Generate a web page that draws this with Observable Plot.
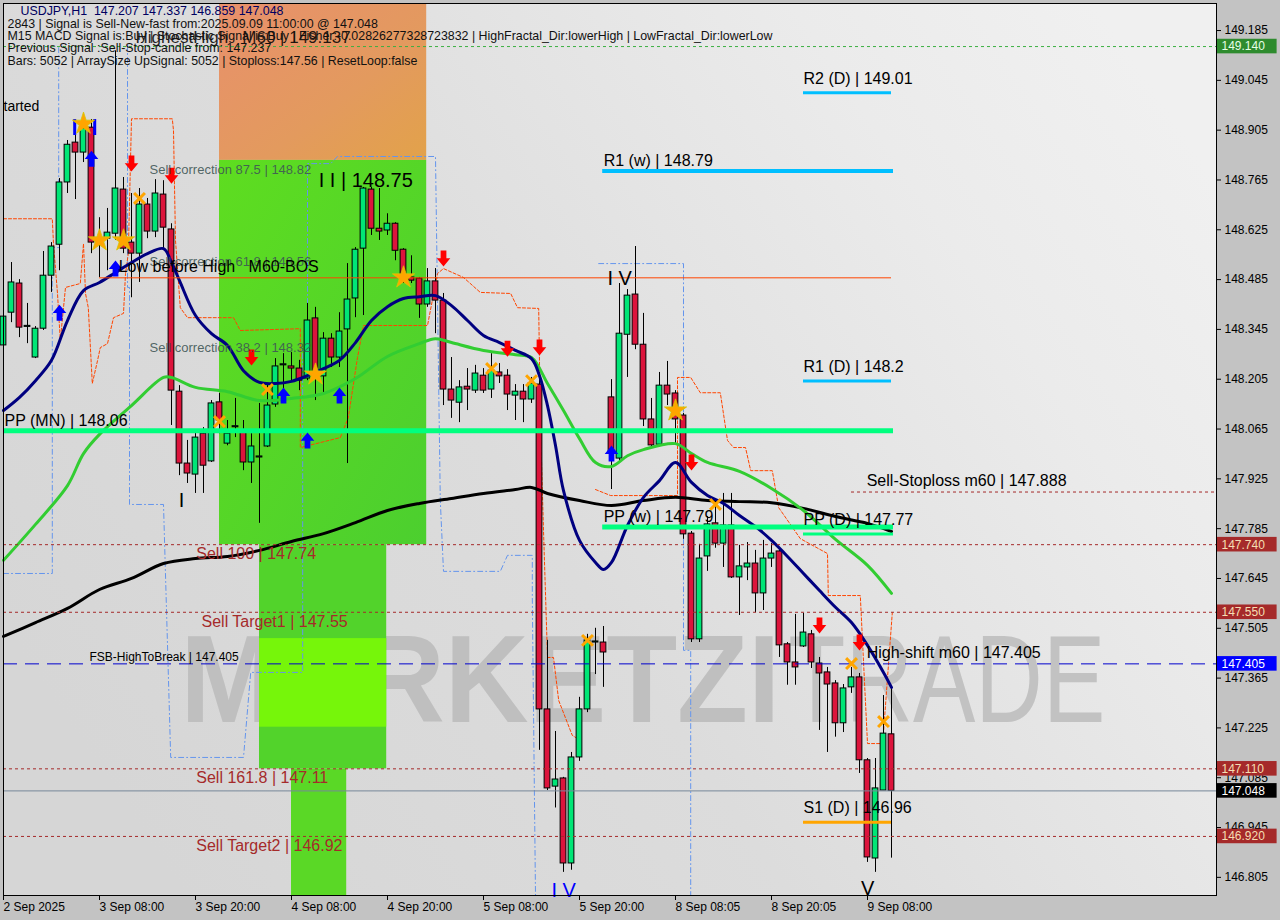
<!DOCTYPE html>
<html><head><meta charset="utf-8">
<script src="https://cdn.jsdelivr.net/npm/d3@7"></script>
<script src="https://cdn.jsdelivr.net/npm/@observablehq/plot@0.6"></script>
<style>
body{margin:0;background:#c3c3c3;}
#chart svg{display:block}
svg text{white-space:pre}
</style>
</head><body><div id="chart"></div>
<script>
// ---------- DATA ----------
const xTickIdx=[0,12,24,36,48,60,72,84,96,108];
const xTickLabels=["2 Sep 2025","3 Sep 08:00","3 Sep 20:00","4 Sep 08:00","4 Sep 20:00","5 Sep 08:00","5 Sep 20:00","8 Sep 08:05","8 Sep 20:05","9 Sep 08:00"];
const yTicks=[149.185,149.045,148.905,148.765,148.625,148.485,148.345,148.205,148.065,147.925,147.785,147.645,147.505,147.365,147.225,147.085,146.945,146.805];

const open=[148.300,148.392,148.474,148.352,148.266,148.347,148.496,148.583,148.758,148.870,
148.842,148.912,148.598,148.600,148.614,148.738,148.589,148.558,148.696,148.620,
148.724,148.626,148.170,147.968,147.937,148.052,147.974,148.140,148.024,148.070,
148.055,147.971,147.985,148.016,148.134,148.244,148.241,148.235,148.207,148.376,
148.213,148.319,148.266,148.345,148.432,148.572,148.738,148.628,148.623,148.642,
148.569,148.491,148.488,148.415,148.480,148.426,148.176,148.139,148.184,148.173,
148.215,148.176,148.224,148.215,148.159,148.170,148.148,148.190,147.277,147.060,
147.083,146.844,147.142,147.277,147.465,147.465,148.154,147.982,148.330,148.443,
148.302,148.092,148.021,148.187,148.165,148.103,147.771,147.474,147.707,147.800,
147.743,147.794,147.648,147.676,147.687,147.603,147.701,147.721,147.460,147.409,
147.454,147.488,147.406,147.381,147.350,147.238,147.339,147.367,147.134,146.858,
147.049,147.207];
const high=[148.400,148.533,148.485,148.418,148.353,148.564,148.589,148.769,148.876,148.904,
148.932,148.935,148.659,148.685,149.128,148.772,148.727,148.741,148.713,148.766,
148.763,148.642,148.187,148.033,148.055,148.069,148.145,148.165,148.089,148.151,
148.089,148.052,148.137,148.193,148.263,148.277,148.280,148.258,148.418,148.407,
148.336,148.333,148.392,148.530,148.575,148.744,148.744,148.741,148.670,148.645,
148.572,148.552,148.491,148.516,148.516,148.446,148.266,148.201,148.235,148.244,
148.235,148.277,148.249,148.232,148.190,148.190,148.210,148.215,147.471,147.215,
147.086,147.156,147.311,147.488,147.505,147.510,148.204,148.474,148.457,148.578,
148.390,148.151,148.224,148.255,148.173,148.109,147.777,147.741,147.819,147.864,
147.884,147.884,147.738,147.746,147.724,147.752,147.743,147.724,147.465,147.544,
147.547,147.499,147.423,147.395,147.358,147.347,147.395,147.378,147.139,147.139,
147.316,147.337];
const low=[148.249,148.364,148.322,148.305,148.263,148.342,148.449,148.510,148.727,148.710,
148.814,148.558,148.491,148.510,148.595,148.558,148.434,148.477,148.600,148.603,
148.567,148.075,147.934,147.912,147.884,147.884,147.971,148.052,148.018,148.041,
147.948,147.912,147.800,148.013,148.126,148.159,148.201,148.173,148.201,148.145,
148.165,148.238,148.238,147.968,148.378,148.384,148.609,148.595,148.609,148.538,
148.474,148.474,148.376,148.407,148.333,148.131,148.095,148.083,148.117,148.165,
148.165,148.151,148.193,148.117,148.089,148.083,148.137,147.162,147.049,147.000,
146.819,146.825,147.131,147.268,147.375,147.339,147.895,147.974,148.210,148.288,
148.072,148.010,148.019,148.131,148.019,147.755,147.465,147.465,147.665,147.730,
147.676,147.645,147.541,147.639,147.549,147.555,147.676,147.423,147.345,147.345,
147.451,147.392,147.218,147.156,147.199,147.212,147.322,147.097,146.847,146.819,
147.049,146.859];
const close=[148.381,148.477,148.350,148.355,148.347,148.496,148.578,148.758,148.864,148.842,
148.909,148.589,148.592,148.617,148.741,148.572,148.558,148.696,148.620,148.727,
148.631,148.173,147.968,147.940,148.041,147.962,148.137,148.089,148.052,148.073,
147.971,148.016,147.988,148.131,148.241,148.247,148.235,148.201,148.370,148.224,
148.319,148.266,148.339,148.429,148.569,148.741,148.628,148.620,148.642,148.566,
148.485,148.482,148.415,148.480,148.426,148.176,148.145,148.182,148.176,148.221,
148.173,148.229,148.213,148.162,148.170,148.148,148.193,147.277,147.055,147.080,
146.844,147.142,147.277,147.471,147.468,147.437,148.002,148.333,148.440,148.302,
148.092,148.019,148.187,148.162,148.092,147.769,147.474,147.701,147.797,147.743,
147.794,147.648,147.679,147.687,147.603,147.701,147.715,147.457,147.409,147.395,
147.493,147.409,147.378,147.347,147.238,147.336,147.367,147.134,146.861,147.055,
147.209,147.048];

const maSlowIdx=[0,4,8,12,16,20,24,28,32,36,40,44,48,52,56,60,64,66,68,72,76,80,84,88,92,96,100,104,108,111];
const maSlow=[147.482,147.521,147.561,147.614,147.645,147.687,147.701,147.707,147.724,147.749,147.771,147.802,147.836,147.856,147.870,147.884,147.895,147.901,147.884,147.864,147.850,147.864,147.873,147.864,147.861,147.858,147.842,147.819,147.800,147.777];
const maMidIdx=[0,4,8,10,12,16,20,21,24,28,32,36,40,44,48,52,54,56,60,64,66,68,70,72,74,76,78,80,84,86,88,92,96,100,104,108,111];
const maMid=[147.696,147.797,147.906,147.996,148.050,148.131,148.210,148.210,148.182,148.170,148.145,148.151,148.165,148.207,148.269,148.305,148.319,148.308,148.286,148.274,148.266,148.193,148.117,148.038,147.971,147.960,147.990,148.007,148.024,147.996,147.971,147.946,147.898,147.836,147.755,147.682,147.603];
const maFastIdx=[0,2,4,6,8,10,12,14,16,18,20,21,22,24,26,28,30,32,34,36,38,40,42,44,46,48,50,52,54,56,58,60,62,64,66,67,68,69,70,72,74,75,76,78,80,82,84,86,88,90,92,94,96,98,100,102,104,106,108,110,111];
const maFast=[148.117,148.154,148.201,148.258,148.370,148.454,148.477,148.505,148.533,148.558,
148.572,148.533,148.482,148.384,148.333,148.300,148.229,148.196,148.193,148.199,
148.215,148.235,148.258,148.308,148.370,148.409,148.432,148.437,148.440,148.412,
148.370,148.328,148.308,148.286,148.263,148.215,148.131,148.019,147.892,147.752,
147.690,147.670,147.690,147.794,147.873,147.920,147.971,147.915,147.878,147.856,
147.822,147.791,147.752,147.707,147.659,147.611,147.564,147.521,147.457,147.381,147.339];

// stepped band (blue dash-dot) and stop line (orange dashed)
const bandSeg=[0,0,0,0,0, 1,1,1,1,1,1,1,1,1,1,1,1,1,1,1,1,1,1,1,1,1,1, 2,2,2,2,2];
const bandIdx=[0,6.1,6.1,6.9,6.9, 15.5,15.5,15.75,15.75,20,20.9,30,30.9,37.4,37.4,38,38,40.9,41.75,54,54.6,55,62.1,63,66.1,66.1,66.5, 74.4,85,85,85.9,85.9];
const bandVal=[147.659,147.659,148.575,148.575,149.143, 149.143,148.463,148.463,147.853,147.853,147.142,147.142,147.381,147.381,148.286,148.286,148.811,148.811,148.831,148.831,147.864,147.665,147.665,147.710,147.710,147.592,146.754, 148.530,148.530,147.443,147.443,146.754];
const stopSeg=[0,0,0,0,0,0,0,0,0,0,0,0,0,0,0,0,0,0,0,0,0,0,0,0,0,0,0,0,0,0,0,0,0,0,0,0,0,0,0,0,0,0,0,0,0,0,0, 1,1,1,1,1,1,1,1,1,1,1,1,1,1,1,1,1,1,1,1];
const stopIdx=[0,6.1,6.25,6.75,7.1,7.75,9.6,10,10.25,10.6,11.1,11.75,12.1,13,13.75,15,15.25,15.6,16,21.1,21.25,21.5,22.1,23,28.75,29.6,37.1,37.1,42.1,43.1,44.25,45,53,54.25,55,57.5,59.6,63.4,64.25,66.9,67.1,67.5,68,68.75,69.4,71.1,71.9,
74,75.9,84.25,84.25,85.9,87.1,89.6,90.5,91.25,92.75,93.4,96.1,96.9,99.6,103,103.1,107.1,108,109.9,111.1];
const stopVal=[148.656,148.656,148.586,148.446,148.314,148.463,148.474,148.586,148.446,148.406,148.193,148.257,148.294,148.305,148.378,148.390,148.502,148.558,148.937,148.937,148.904,148.595,148.406,148.378,148.378,148.342,148.347,148.013,148.041,148.097,148.266,148.356,148.356,148.502,148.516,148.491,148.449,148.446,148.406,148.404,148.097,147.780,147.423,147.423,147.302,147.204,147.193,
147.895,147.878,147.878,148.210,148.210,148.167,148.167,148.033,148.013,148.013,147.948,147.948,147.844,147.757,147.715,147.597,147.597,147.181,147.181,147.549];

const sellArrowIdx=[16,21,31,55,63,67,86,102,107];
const sellArrowVal=[148.811,148.777,148.266,148.544,148.291,148.294,147.971,147.513,147.465];
const buyArrowIdx=[7,11,14,35,38,42,76];
const buyArrowVal=[148.392,148.825,148.516,148.159,148.033,148.159,147.996];
const starIdx=[10,12,15,39,50,84];
const starVal=[148.923,148.595,148.595,148.218,148.491,148.117];
const crossIdx=[17,27,33,61,66,73,89,106,110];
const crossVal=[148.713,148.086,148.176,148.235,148.201,147.471,147.853,147.406,147.243];

const pivotNames=["R2 (D)","R1 (w)","R1 (D)","PP (MN)","PP (w)","PP (D)","S1 (D)"];
const pivotValues=[149.01,148.79,148.2,148.06,147.79,147.77,146.96];
const pivotStart=[100,74.9,100,0,74.9,100,100];
const pivotEnd=[111,111.25,111,111.25,111.25,111.25,111];

const sellNames=["Sell 100","Sell Target1","Sell 161.8","Sell Target2"];
const sellValues=[147.74,147.55,147.11,146.92];
const correctionNames=["Sell correction 87.5","Sell correction 61.8","Sell correction 38.2"];
const correctionValues=[148.82,148.56,148.32];
const highestHigh=149.14, fsbLevel=147.405, bidPrice=147.048, sellStop=147.888, bosLevel=148.49;

const boxValues=[149.140,147.740,147.550,147.405,147.110,147.048,146.920];
const boxKinds=["high","sell","sell","fsb","sell","bid","sell"];

const headerLine1="USDJPY,H1  147.207 147.337 146.859 147.048";
const headerLines=["2843 | Signal is Sell-New-fast from:2025.09.09 11:00:00 @ 147.048",
"M15 MACD Signal is:Buy | Stochastic Signal is:Buy | Fisher:-0.02826277328723832 | HighFractal_Dir:lowerHigh | LowFractal_Dir:lowerLow",
"Previous Signal :Sell-Stop-candle from: 147.237",
"Bars: 5052 | ArraySize UpSignal: 5052 | Stoploss:147.56 | ResetLoop:false"];

// ---------- BUILD ----------
const candles=open.map((o,i)=>({i,o,h:high[i],l:low[i],c:close[i]}));
const pts=(ix,vs,seg)=>ix.map((i,k)=>({i,p:vs[k],s:seg?seg[k]:0}));
const slow=pts(maSlowIdx,maSlow), mid=pts(maMidIdx,maMid), fast=pts(maFastIdx,maFast);
const band=pts(bandIdx,bandVal,bandSeg), stop=pts(stopIdx,stopVal,stopSeg);
const pivots=pivotNames.map((n,k)=>({n,p:pivotValues[k],a:pivotStart[k],b:pivotEnd[k]}));
const xEnd=151.625;

const pivStyle={"R2 (D)":["#00bfff",3],"R1 (w)":["#00bfff",4],"R1 (D)":["#00bfff",3],"PP (MN)":["#00ff7f",5],"PP (w)":["#00ff7f",5],"PP (D)":["#00ff7f",3],"S1 (D)":["#ffa500",3]};
const boxFill={high:"#2e8b2e",sell:"#a52a2a",fsb:"#0000ff",bid:"#000000"};
const boxText={high:"#e6ffe6",sell:"#f5deb3",fsb:"#ffffff",bid:"#ffffff"};

const arrowDown={draw(ctx,size){const r=Math.sqrt(size/Math.PI),w=r*0.36,hw=r*0.85,hy=-0.05*r;
 ctx.moveTo(-w,-r);ctx.lineTo(w,-r);ctx.lineTo(w,hy);ctx.lineTo(hw,hy);ctx.lineTo(0,r);ctx.lineTo(-hw,hy);ctx.lineTo(-w,hy);ctx.closePath();}};
const arrowUp={draw(ctx,size){const r=Math.sqrt(size/Math.PI),w=r*0.36,hw=r*0.85,hy=0.05*r;
 ctx.moveTo(-w,r);ctx.lineTo(w,r);ctx.lineTo(w,hy);ctx.lineTo(hw,hy);ctx.lineTo(0,-r);ctx.lineTo(-hw,hy);ctx.lineTo(-w,hy);ctx.closePath();}};

const zones=[
 {a:27,b:52.9,p1:148.82,p2:149.261,f:"url(#orGrad)"},
 {a:27,b:52.9,p1:147.74,p2:148.82,f:"url(#grGrad)"},
 {a:32,b:47.9,p1:147.11,p2:147.74,f:"#52d32b"},
 {a:32,b:47.9,p1:147.227,p2:147.476,f:"#76f60a"},
 {a:36,b:42.9,p1:146.754,p2:147.11,f:"#5ad826"}
];

const fontMain="Liberation Sans, Arial, sans-serif";

const chart=Plot.plot({
 width:1280,height:920,marginLeft:3,marginRight:64,marginTop:3,marginBottom:25,
 style:{fontFamily:fontMain,background:"#c3c3c3",overflow:"visible",fontSize:"12px"},
 x:{domain:[0,xEnd],axis:null},
 y:{domain:[146.754,149.261],axis:null},
 color:{type:"identity"},
 marks:[
  Plot.frame({fill:"url(#bgGrad)"}),
  // watermark
  Plot.text([{t:"MARKETZI",i:22.1,p:147.353}],{x:"i",y:"p",text:"t",fontSize:124,fontWeight:"bold",fill:"#bfbfbf",textAnchor:"start",lineAnchor:"middle"}),
  Plot.text([{t:"TRADE",i:98.1,p:147.353}],{x:"i",y:"p",text:"t",fontSize:124,fill:"#c2c2c2",textAnchor:"start",lineAnchor:"middle"}),
  // zones
  Plot.rect(zones,{x1:"a",x2:"b",y1:"p1",y2:"p2",fill:"f"}),
  // band / stop lines
  Plot.line(band,{x:"i",y:"p",z:"s",stroke:"#6495ed",strokeWidth:1,strokeDasharray:"5,3,1,3"}),
  Plot.line(stop,{x:"i",y:"p",z:"s",stroke:"#ff4500",strokeWidth:1,strokeDasharray:"3,2"}),
  // candles
  Plot.ruleX(candles,{x:"i",y1:"l",y2:"h",stroke:"#000",strokeWidth:1}),
  Plot.rect(candles,{x1:d=>d.i-0.36,x2:d=>d.i+0.36,y1:"o",y2:"c",fill:d=>d.c>=d.o?"#00e676":"#dc143c",stroke:"#000",strokeWidth:1}),
  // moving averages
  Plot.line(slow,{x:"i",y:"p",stroke:"#000",strokeWidth:3,curve:"catmull-rom"}),
  Plot.line(mid,{x:"i",y:"p",stroke:"#32cd32",strokeWidth:3,curve:"catmull-rom"}),
  Plot.line(fast,{x:"i",y:"p",stroke:"#000080",strokeWidth:3,curve:"catmull-rom"}),
  // horizontal levels
  Plot.ruleY([highestHigh],{stroke:"#3cb043",strokeDasharray:"3,3"}),
  Plot.ruleY(sellValues,{stroke:"#a52a2a",strokeDasharray:"3,3"}),
  Plot.ruleY([fsbLevel],{stroke:"#0000cd",strokeDasharray:"14,8"}),
  Plot.ruleY([bidPrice],{stroke:"#778899"}),
  Plot.ruleY([{p:sellStop,a:106,b:xEnd}],{y:"p",x1:"a",x2:"b",stroke:"#a52a2a",strokeDasharray:"3,3"}),
  Plot.ruleY([{p:bosLevel,a:12,b:111}],{y:"p",x1:"a",x2:"b",stroke:"#ff4500",strokeWidth:1}),
  // pivots
  Plot.ruleY(pivots,{y:"p",x1:"a",x2:"b",stroke:d=>pivStyle[d.n][0],strokeWidth:d=>pivStyle[d.n][1]}),
  // fractal marks
  Plot.ruleX([{i:8.9},{i:11.4}],{x:"i",y1:()=>148.89,y2:()=>148.935,stroke:"#0000ff",strokeWidth:3}),
  // signals
  Plot.dot(pts(sellArrowIdx,sellArrowVal),{x:"i",y:"p",symbol:arrowDown,r:8,fill:"#ff0000",stroke:"none"}),
  Plot.dot(pts(buyArrowIdx,buyArrowVal),{x:"i",y:"p",symbol:arrowUp,r:8,fill:"#0000ff",stroke:"none"}),
  Plot.dot(pts(starIdx,starVal),{x:"i",y:"p",symbol:"star",r:7,fill:"#ffa500",stroke:"#d4c800",strokeWidth:0.8}),
  Plot.dot(pts(crossIdx,crossVal),{x:"i",y:"p",symbol:"times",r:5,stroke:"#ffa500",strokeWidth:3}),
  // labels
  Plot.text(pivots.filter(d=>!d.n.includes("(D)")),{x:"a",y:"p",text:d=>`${d.n} | ${d.p}`,fontSize:16,fill:"#000",textAnchor:"start",lineAnchor:"bottom",dy:-5,dx:1}),
  Plot.text(pivots.filter(d=>d.n.includes("(D)")),{x:"a",y:"p",text:d=>`${d.n} | ${d.p}`,fontSize:16,fill:"#000",textAnchor:"start",lineAnchor:"bottom",dy:-9}),
  Plot.text([{t:`Sell-Stoploss m60 | ${sellStop}`,i:107.9,p:sellStop},{t:`High-shift m60 | ${fsbLevel}`,i:107.9,p:fsbLevel}],{x:"i",y:"p",text:"t",fontSize:16,fill:"#000",textAnchor:"start",lineAnchor:"bottom",dy:-6}),
  Plot.text([{t:`FSB-HighToBreak | ${fsbLevel}`,i:10.75,p:fsbLevel}],{x:"i",y:"p",text:"t",fontSize:12,fill:"#000",textAnchor:"start",lineAnchor:"bottom",dy:-3}),
  Plot.text(sellNames.map((n,k)=>({t:`${n} | ${sellValues[k]}`,i:n==="Sell Target1"?24.75:24.1,p:sellValues[k]})),{x:"i",y:"p",text:"t",fontSize:16,fill:"#a52a2a",textAnchor:"start",lineAnchor:"top",dy:3}),
  Plot.text(correctionNames.map((n,k)=>({t:`${n} | ${correctionValues[k]}`,i:18.25,p:correctionValues[k]})),{x:"i",y:"p",text:"t",fontSize:13,fill:"#3f5656",fillOpacity:0.9,textAnchor:"start",lineAnchor:"top",dy:4}),
  Plot.text([{t:"Low before High   M60-BOS",i:14.4,p:bosLevel}],{x:"i",y:"p",text:"t",fontSize:16,fill:"#000",textAnchor:"start",lineAnchor:"bottom",dy:-6}),
  Plot.text([{t:"I I | 148.75",i:39.4,p:148.75}],{x:"i",y:"p",text:"t",fontSize:20,fill:"#000",textAnchor:"start",lineAnchor:"middle",dy:-5}),
  Plot.text([{t:"I V",i:75.5,p:148.488},{t:"I",i:21.9,p:147.864},{t:"V",i:107.2,p:146.774}],{x:"i",y:"p",text:"t",fontSize:20,fill:"#000",textAnchor:"start",lineAnchor:"middle"}),
  Plot.text([{t:"I V",i:68.5,p:146.768}],{x:"i",y:"p",text:"t",fontSize:20,fill:"#0000ff",textAnchor:"start",lineAnchor:"middle"}),
  Plot.text([{t:"tarted",i:0,p:148.971}],{x:"i",y:"p",text:"t",fontSize:14,fill:"#000",textAnchor:"start",lineAnchor:"middle"}),
  Plot.text([{t:"HighestHigh   M60 | 149.137",i:16.5,p:149.165}],{x:"i",y:"p",text:"t",fontSize:17,fill:"#000",fillOpacity:0.85,textAnchor:"start",lineAnchor:"middle"}),
  // header
  Plot.text([headerLine1],{frameAnchor:"top-left",text:d=>d,dx:17,dy:3,fontSize:12.4,fill:"#000060",textAnchor:"start",lineAnchor:"top"}),
  Plot.text([headerLines.join("\n")],{frameAnchor:"top-left",text:d=>d,dx:4,dy:15.5,fontSize:12.4,lineHeight:0.99,fill:"#111",textAnchor:"start",lineAnchor:"top"}),
  // axes
  Plot.axisY({anchor:"right",ticks:yTicks,tickFormat:d3.format(".3f"),tickSize:4,tickPadding:4,fontSize:12,label:null,stroke:"#000"}),
  Plot.axisX({anchor:"bottom",ticks:xTickIdx,tickFormat:d=>xTickLabels[xTickIdx.indexOf(d)],tickSize:5,tickPadding:2,textAnchor:"start",fontSize:12,label:null}),
  // axis price boxes
  Plot.rect(boxValues.map((v,k)=>({v,k:boxKinds[k]})),{x1:()=>151.75,x2:()=>159.2,y1:d=>d.v-0.0205,y2:d=>d.v+0.0205,fill:d=>boxFill[d.k]}),
  Plot.text(boxValues.map((v,k)=>({v,k:boxKinds[k]})),{x:()=>151.75,y:"v",text:d=>d.v.toFixed(3),dx:4,fill:d=>boxText[d.k],fontSize:12,textAnchor:"start",lineAnchor:"middle"}),
  Plot.frame({stroke:"#000"})
 ]
});

// gradients
const defs=d3.select(chart).insert("defs",":first-child");
const bg=defs.append("linearGradient").attr("id","bgGrad").attr("x1","0").attr("y1","0.7").attr("x2","1").attr("y2","0.2");
[["0","#d6d6d6"],["0.4","#dcdcdc"],["0.8","#ebebeb"],["1","#f0f0f0"]].forEach(([o,c])=>bg.append("stop").attr("offset",o).attr("stop-color",c));
const og=defs.append("linearGradient").attr("id","orGrad").attr("x1","0").attr("y1","0").attr("x2","1").attr("y2","1");
[["0","#e8906c"],["0.6","#e39a5e"],["1","#e2a24a"]].forEach(([o,c])=>og.append("stop").attr("offset",o).attr("stop-color",c));
const gg=defs.append("linearGradient").attr("id","grGrad").attr("x1","0").attr("y1","0").attr("x2","1").attr("y2","1");
[["0","#5edd20"],["1","#4ccf2f"]].forEach(([o,c])=>gg.append("stop").attr("offset",o).attr("stop-color",c));

d3.select(chart).selectAll("text").each(function(){
  if(this.textContent==="MARKETZI"){d3.select(this).attr("textLength",600).attr("lengthAdjust","spacingAndGlyphs");}
  if(this.textContent==="TRADE"){d3.select(this).attr("textLength",317).attr("lengthAdjust","spacingAndGlyphs").attr("font-weight","300");}
});

document.getElementById("chart").appendChild(chart);
</script>
</body></html>
